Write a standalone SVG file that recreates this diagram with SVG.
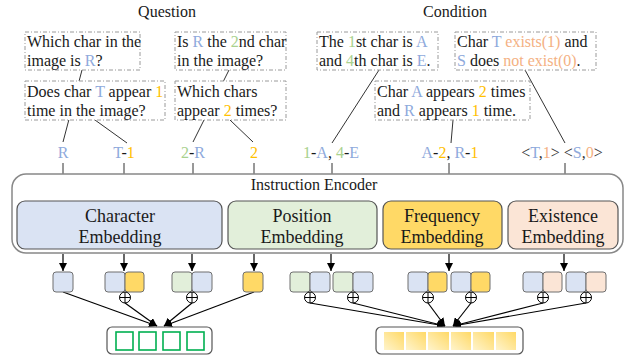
<svg xmlns="http://www.w3.org/2000/svg" width="629" height="358" viewBox="0 0 629 358">
<style>
text{font-family:"Liberation Serif","Times New Roman",serif;fill:#1a1a1a}
.t16{font-size:16px}
.t15{font-size:15.5px}
.t18{font-size:18px}
.b{fill:#8faadc}
.g{fill:#a9d18e}
.y{fill:#ffc000}
.s{fill:#f4b183}
.k{fill:#333}
.dash{fill:#fff;stroke:#9a9a9a;stroke-width:1;stroke-dasharray:4 2 1 2}
.ln{stroke:#333;stroke-width:1;fill:none}
.ar{stroke:#000;stroke-width:1.2;fill:none;marker-end:url(#ah)}
.sb{stroke:#6f6f6f;stroke-width:1}
.cb{fill:#dae3f3}.cg{fill:#e2efda}.cy{fill:#ffd966}.cp{fill:#fbe5d6}
.emb{stroke:#555;stroke-width:1.2}
.op circle{fill:#fff;stroke:#000;stroke-width:1}
.op path{stroke:#000;stroke-width:1}
</style>
<defs>
<marker id="ah" viewBox="0 0 10 10" refX="10" refY="5" markerWidth="8" markerHeight="8" markerUnits="userSpaceOnUse" orient="auto"><path d="M0,0 L10,5 L0,10 z" fill="#000"/></marker>
<linearGradient id="yg" x1="1" y1="0" x2="0" y2="1"><stop offset="0" stop-color="#ffd966"/><stop offset="1" stop-color="#fff4cc"/></linearGradient>
</defs>

<g id="titles">
<text class="t16" x="167" y="17" text-anchor="middle">Question</text>
<text class="t16" x="455" y="17" text-anchor="middle">Condition</text>
</g>

<g id="connectors">
<line class="ln" x1="82" y1="70" x2="63" y2="142"/>
<line class="ln" x1="95" y1="120" x2="127" y2="143"/>
<line class="ln" x1="229" y1="70" x2="193" y2="142"/>
<line class="ln" x1="230" y1="120" x2="253" y2="142"/>
<line class="ln" x1="379" y1="70" x2="332" y2="143"/>
<line class="ln" x1="453" y1="120" x2="451" y2="143"/>
<line class="ln" x1="525" y1="70" x2="565" y2="143"/>
<line class="ln" x1="63" y1="163" x2="63" y2="174"/>
<line class="ln" x1="124" y1="163" x2="124" y2="174"/>
<line class="ln" x1="193" y1="163" x2="193" y2="174"/>
<line class="ln" x1="254" y1="163" x2="254" y2="174"/>
<line class="ln" x1="332" y1="163" x2="332" y2="174"/>
<line class="ln" x1="449" y1="163" x2="449" y2="174"/>
<line class="ln" x1="565" y1="163" x2="565" y2="174"/>
<line class="ar" x1="63" y1="254" x2="63" y2="271"/>
<line class="ar" x1="124" y1="254" x2="124" y2="271"/>
<line class="ar" x1="192" y1="254" x2="192" y2="271"/>
<line class="ar" x1="254" y1="254" x2="254" y2="271"/>
<line class="ar" x1="331" y1="254" x2="331" y2="271"/>
<line class="ar" x1="449" y1="254" x2="449" y2="271"/>
<line class="ar" x1="564" y1="254" x2="564" y2="271"/>
<line class="ar" x1="63" y1="292" x2="157" y2="326"/>
<line class="ar" x1="125" y1="303" x2="157" y2="326"/>
<line class="ar" x1="192" y1="303" x2="164" y2="326"/>
<line class="ar" x1="254" y1="292" x2="164" y2="326"/>
<line class="ar" x1="310" y1="303" x2="445" y2="326"/>
<line class="ar" x1="353" y1="303" x2="445" y2="326"/>
<line class="ar" x1="428" y1="303" x2="445" y2="326"/>
<line class="ar" x1="471" y1="303" x2="453" y2="326"/>
<line class="ar" x1="543" y1="303" x2="453" y2="326"/>
<line class="ar" x1="586" y1="303" x2="453" y2="326"/>
</g>

<g id="q1"><rect class="dash" x="25" y="32" width="115" height="38"/>
<text class="t16" x="27" y="47">Which char in the</text>
<text class="t16" x="27" y="66">image is <tspan class="b">R</tspan>?</text></g>
<g id="q2"><rect class="dash" x="175" y="32" width="111" height="38"/>
<text class="t16" x="177" y="47">Is <tspan class="b">R</tspan> the <tspan class="g">2</tspan>nd char</text>
<text class="t16" x="177" y="66">in the image?</text></g>
<g id="q3"><rect class="dash" x="25" y="81" width="140" height="39"/>
<text class="t16" x="27" y="97">Does char <tspan class="b">T</tspan> appear <tspan class="y">1</tspan></text>
<text class="t16" x="27" y="116">time in the image?</text></g>
<g id="q4"><rect class="dash" x="175" y="81" width="111" height="39"/>
<text class="t16" x="177" y="97">Which chars</text>
<text class="t16" x="177" y="116">appear <tspan class="y">2</tspan> times?</text></g>
<g id="c1"><rect class="dash" x="317" y="32" width="121" height="38"/>
<text class="t16" x="319" y="47">The <tspan class="g">1</tspan>st char is <tspan class="b">A</tspan></text>
<text class="t16" x="319" y="66">and <tspan class="g">4</tspan>th char is <tspan class="b">E</tspan>.</text></g>
<g id="c2"><rect class="dash" x="455" y="32" width="141" height="38"/>
<text class="t16" x="457" y="47">Char <tspan class="b">T</tspan> <tspan class="s">exists(1)</tspan> and</text>
<text class="t16" x="457" y="66"><tspan class="b">S</tspan> does <tspan class="s">not exist(0)</tspan>.</text></g>
<g id="c3"><rect class="dash" x="375" y="81" width="155" height="39"/>
<text class="t16" x="377" y="97">Char <tspan class="b">A</tspan> appears <tspan class="y">2</tspan> times</text>
<text class="t16" x="377" y="116">and <tspan class="b">R</tspan> appears <tspan class="y">1</tspan> time.</text></g>

<g id="labels">
<text class="t16" x="63" y="158" text-anchor="middle"><tspan class="b">R</tspan></text>
<text class="t16" x="124" y="158" text-anchor="middle"><tspan class="b">T</tspan>-<tspan class="y">1</tspan></text>
<text class="t16" x="193" y="158" text-anchor="middle"><tspan class="g">2</tspan>-<tspan class="b">R</tspan></text>
<text class="t16" x="254" y="158" text-anchor="middle"><tspan class="y">2</tspan></text>
<text class="t16" x="331" y="158" text-anchor="middle"><tspan class="g">1</tspan>-<tspan class="b">A</tspan>, <tspan class="g">4</tspan>-<tspan class="b">E</tspan></text>
<text class="t16" x="450" y="158" text-anchor="middle"><tspan class="b">A</tspan>-<tspan class="y">2</tspan>, <tspan class="b">R</tspan>-<tspan class="y">1</tspan></text>
<text class="t16" x="562" y="158" text-anchor="middle"><tspan class="k">&lt;</tspan><tspan class="b">T</tspan><tspan class="k">,</tspan><tspan class="s">1</tspan><tspan class="k">&gt; &lt;</tspan><tspan class="b">S</tspan><tspan class="k">,</tspan><tspan class="s">0</tspan><tspan class="k">&gt;</tspan></text>
</g>

<g id="encoder">
<rect x="12" y="174" width="611" height="79" rx="14" fill="#fff" stroke="#888" stroke-width="1.5"/>
<text class="t16" x="314" y="190" text-anchor="middle">Instruction Encoder</text>
</g>
<g id="char-emb"><rect class="emb cb" x="17" y="201" width="205" height="48" rx="8"/>
<text class="t18" x="120" y="222" text-anchor="middle">Character</text>
<text class="t18" x="120" y="243" text-anchor="middle">Embedding</text></g>
<g id="pos-emb"><rect class="emb cg" x="228" y="201" width="149" height="48" rx="8"/>
<text class="t18" x="302" y="222" text-anchor="middle">Position</text>
<text class="t18" x="302" y="243" text-anchor="middle">Embedding</text></g>
<g id="freq-emb"><rect class="emb cy" x="383" y="201" width="119" height="48" rx="8"/>
<text class="t18" x="442" y="222" text-anchor="middle">Frequency</text>
<text class="t18" x="442" y="243" text-anchor="middle">Embedding</text></g>
<g id="exist-emb"><rect class="emb cp" x="508" y="201" width="110" height="48" rx="8"/>
<text class="t18" x="563" y="222" text-anchor="middle">Existence</text>
<text class="t18" x="563" y="243" text-anchor="middle">Embedding</text></g>

<g id="tokens">
<rect class="sb cb" x="53" y="272" width="20" height="20" rx="3"/>
<rect class="sb cb" x="105" y="272" width="20" height="20" rx="3"/>
<rect class="sb cy" x="125" y="272" width="19" height="20" rx="3"/>
<rect class="sb cg" x="172" y="272" width="20" height="20" rx="3"/>
<rect class="sb cb" x="192" y="272" width="20" height="20" rx="3"/>
<rect class="sb cy" x="243" y="272" width="20" height="20" rx="3"/>
<rect class="sb cg" x="290" y="272" width="20" height="20" rx="3"/>
<rect class="sb cb" x="310" y="272" width="20" height="20" rx="3"/>
<rect class="sb cg" x="333" y="272" width="20" height="20" rx="3"/>
<rect class="sb cb" x="353" y="272" width="20" height="20" rx="3"/>
<rect class="sb cb" x="408" y="272" width="20" height="20" rx="3"/>
<rect class="sb cy" x="428" y="272" width="19" height="20" rx="3"/>
<rect class="sb cb" x="451" y="272" width="20" height="20" rx="3"/>
<rect class="sb cy" x="471" y="272" width="19" height="20" rx="3"/>
<rect class="sb cb" x="523" y="272" width="20" height="20" rx="3"/>
<rect class="sb cp" x="543" y="272" width="19" height="20" rx="3"/>
<rect class="sb cb" x="566" y="272" width="20" height="20" rx="3"/>
<rect class="sb cp" x="586" y="272" width="20" height="20" rx="3"/>
</g>

<g id="oplus" class="op">
<g transform="translate(125,297.5)"><circle r="5.5"/><path d="M-5.5,0H5.5M0,-5.5V5.5"/></g>
<g transform="translate(192,297.5)"><circle r="5.5"/><path d="M-5.5,0H5.5M0,-5.5V5.5"/></g>
<g transform="translate(310,297.5)"><circle r="5.5"/><path d="M-5.5,0H5.5M0,-5.5V5.5"/></g>
<g transform="translate(353,297.5)"><circle r="5.5"/><path d="M-5.5,0H5.5M0,-5.5V5.5"/></g>
<g transform="translate(428,297.5)"><circle r="5.5"/><path d="M-5.5,0H5.5M0,-5.5V5.5"/></g>
<g transform="translate(471,297.5)"><circle r="5.5"/><path d="M-5.5,0H5.5M0,-5.5V5.5"/></g>
<g transform="translate(543,297.5)"><circle r="5.5"/><path d="M-5.5,0H5.5M0,-5.5V5.5"/></g>
<g transform="translate(586,297.5)"><circle r="5.5"/><path d="M-5.5,0H5.5M0,-5.5V5.5"/></g>
</g>

<g id="out-left">
<rect x="107" y="327" width="105" height="27" rx="5" fill="#fff" stroke="#555" stroke-width="1.2"/>
<g fill="none" stroke="#00b050" stroke-width="1.6">
<rect x="116" y="332" width="17" height="18"/>
<rect x="139" y="332" width="17" height="18"/>
<rect x="163" y="332" width="17" height="18"/>
<rect x="187" y="332" width="17" height="18"/>
</g>
</g>

<g id="out-right">
<rect x="376" y="327" width="147" height="27" rx="5" fill="#fff" stroke="#555" stroke-width="1.2"/>
<g fill="url(#yg)">
<rect x="384" y="332" width="20" height="18"/>
<rect x="406" y="332" width="20" height="18"/>
<rect x="428" y="332" width="21" height="18"/>
<rect x="451" y="332" width="20" height="18"/>
<rect x="473" y="332" width="21" height="18"/>
<rect x="496" y="332" width="20" height="18"/>
</g>
</g>
</svg>
